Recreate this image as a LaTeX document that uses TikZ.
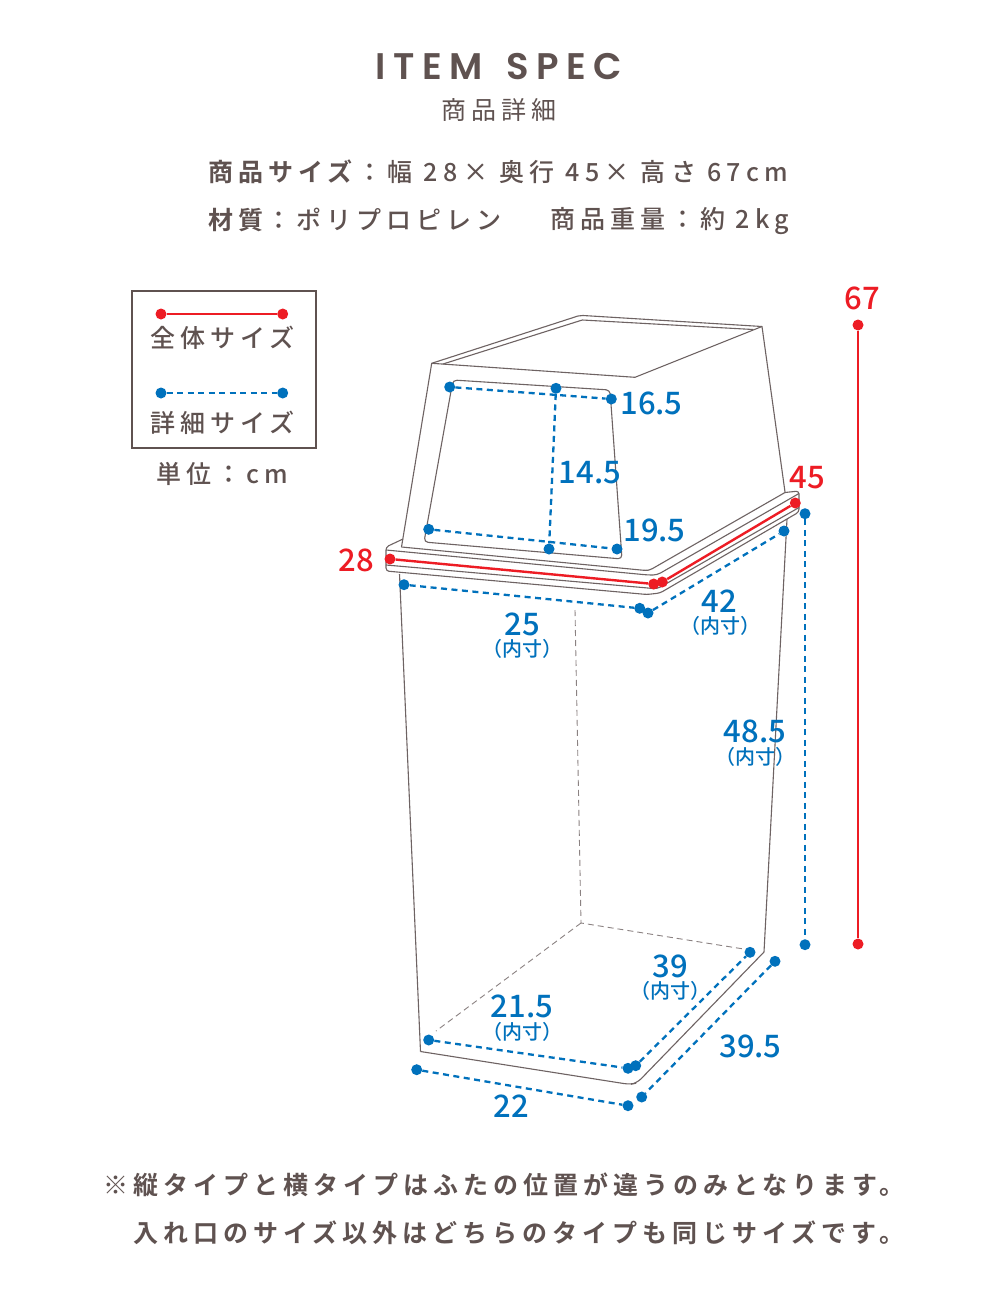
\documentclass[tikz,border=0pt]{standalone}
\usepackage{fontspec}
\setmainfont{Noto Sans CJK JP}
\newfontfamily\jpf[LetterSpace=20.5]{Noto Sans CJK JP}
\newfontfamily\jpm[LetterSpace=20]{Noto Sans CJK JP Medium}
\newfontfamily\jpmw[LetterSpace=21.5]{Noto Sans CJK JP Medium}
\newfontfamily\jpb[LetterSpace=20]{Noto Sans CJK JP Bold}
\newfontfamily\numf{Noto Sans CJK JP Medium}
\newfontfamily\headf[LetterSpace=20,WordSpace=1.5]{Poppins SemiBold}
\definecolor{txt}{HTML}{5F5250}
\definecolor{ln}{HTML}{6E6363}
\definecolor{blu}{HTML}{0071BC}
\definecolor{rd}{HTML}{ED1C24}
\tikzset{
  x=1pt,y=-1pt,
  txtn/.style={inner sep=0pt,text=txt,font=\jpm\fontsize{25}{30}\selectfont,anchor=west},
  num/.style={inner sep=0pt,text=blu,font=\numf\fontsize{31}{36}\selectfont},
  rnum/.style={num,text=rd},
  sub/.style={inner sep=0pt,text=blu,font=\numf\fontsize{20}{24}\selectfont},
  bdot/.style={circle,fill=blu,inner sep=0pt,minimum size=11pt},
  rdot/.style={circle,fill=rd,inner sep=0pt,minimum size=11pt},
  bline/.style={blu,line width=2.3pt,dash pattern=on 6pt off 4.5pt},
  rline/.style={rd,line width=2.4pt},
  body/.style={ln,line width=1.1pt,line join=round},
  hid/.style={ln!80,line width=0.9pt,dash pattern=on 6pt off 4pt},
}
\begin{document}
\begin{tikzpicture}
\useasboundingbox (0,0) rectangle (1000,1300);
\fill[white] (0,0) rectangle (1000,1300);
% heading
\node[inner sep=0pt,text=txt,font=\headf\fontsize{37}{44}\selectfont] (title) at (499,66.5) {ITEM SPEC};
\node[inner sep=0pt,text=txt,font=\jpf\fontsize{25}{30}\selectfont] (sub1) at (499,110) {商品詳細};
\node[txtn] (l1) at (208,172) {{\jpb 商品サイズ}\hspace{5pt}{\jpmw：幅 28× 奥行 45× 高さ 67cm}};
\node[txtn] (l2) at (208,219.5) {{\jpb 材質}\hspace{3pt}：ポリプロピレン};
\node[txtn] (l3) at (550,221) {商品重量：約 2kg};
% legend
\node[draw=txt,line width=2pt,inner sep=0pt,minimum width=183.5pt,minimum height=157pt] (legend) at (224,369.5) {};
\node[rdot] (lr1) at (161,314) {};
\node[rdot] (lr2) at (282.7,314) {};
\draw[rline] (lr1)--(lr2);
\node[bdot] (lb1) at (161,393) {};
\node[bdot] (lb2) at (282.7,393) {};
\draw[bline] (lb1)--(lb2);
\node[inner sep=0pt,text=txt,font=\jpm\fontsize{25}{30}\selectfont] (lt1) at (222.5,338) {全体サイズ};
\node[inner sep=0pt,text=txt,font=\jpm\fontsize{25}{30}\selectfont] (lt2) at (222.5,423) {詳細サイズ};
\node[inner sep=0pt,text=txt,font=\jpm\fontsize{25}{30}\selectfont] (lt3) at (222.5,474) {単位：cm};
% lid
\draw[body] (401.5,547) -- (431.7,363.3) -- (578,316) -- (583,315.5) -- (762,326.5) -- (785,492);
\draw[body] (431.7,363.3) -- (635,377.3) -- (762,326.5);
\draw[body] (443,364) -- (582.3,320) -- (753,329.5);
\draw[body,rounded corners=3pt] (401.5,547) -- (646,570.5) -- (650,570) -- (785,492.5);
% window
\draw[body,rounded corners=4pt] (453,380) -- (610,390) -- (622,559) -- (424,542) -- cycle;
% rim
\draw[body,rounded corners=3pt] (403,539) -- (386,547) -- (386,571) -- (647,594.5) -- (660,593) -- (799,512) -- (799,491) -- (785,492.5);
\draw[body,rounded corners=4pt] (386,550) -- (648,575) -- (657,575) -- (799,493.5);
\draw[body,rounded corners=4pt] (386,565) -- (648,588) -- (657,589) -- (799,507.5);
% body
\draw[body] (399.5,574) -- (420.5,1051.5);
\draw[body,rounded corners=6pt] (420.5,1051.5) -- (630,1084.5) -- (637,1083) -- (764,952);
\draw[body] (764,952) -- (787,519);
\coordinate (hb) at (581,923);
\coordinate (ht) at (575,610);
\coordinate (hr) at (750,950);
\coordinate (hl) at (436,1031);
\draw[hid] (ht)--(hb)--(hr);
\draw[hid] (hb)--(hl);
% red dims
\node[rdot] (r1) at (390,559) {};
\node[rdot] (r2) at (653.7,584) {};
\node[rdot] (r3) at (662.3,582) {};
\node[rdot] (r4) at (795.3,503) {};
\node[rdot] (r5) at (858,325) {};
\node[rdot] (r6) at (858,944) {};
\draw[rline] (r1)--(r2);
\draw[rline] (r3)--(r4);
\draw[rline] (r5)--(r6);
% blue dims
\node[bdot] (a1) at (449.7,387) {};
\node[bdot] (a2) at (611.3,399) {};
\node[bdot] (a3) at (556,388.3) {};
\node[bdot] (a4) at (549,549) {};
\node[bdot] (a5) at (428.7,529.3) {};
\node[bdot] (a6) at (617,549) {};
\node[bdot] (b1) at (404,584.7) {};
\node[bdot] (b2) at (639.7,608.3) {};
\node[bdot] (b3) at (648,613) {};
\node[bdot] (b4) at (784,531) {};
\node[bdot] (b5) at (805,513.7) {};
\node[bdot] (b6) at (805,944.7) {};
\node[bdot] (c1) at (428.7,1040) {};
\node[bdot] (c2) at (628,1068.3) {};
\node[bdot] (c3) at (635.7,1065.7) {};
\node[bdot] (c4) at (750,952.3) {};
\node[bdot] (c5) at (775,961.3) {};
\node[bdot] (c6) at (641.7,1097) {};
\node[bdot] (c7) at (416.7,1069.7) {};
\node[bdot] (c8) at (628,1105.7) {};
\draw[bline] (a1)--(a2);
\draw[bline] (a3)--(a4);
\draw[bline] (a5)--(a6);
\draw[bline] (b1)--(b2);
\draw[bline] (b3)--(b4);
\draw[bline] (b5)--(b6);
\draw[bline] (c1)--(c2);
\draw[bline] (c3)--(c4);
\draw[bline] (c5)--(c6);
\draw[bline] (c7)--(c8);
% labels
\node[rnum] (n67) at (862,298) {67};
\node[rnum] (n45) at (807.5,477.5) {45};
\node[rnum] (n28) at (356,560.5) {28};
\node[num] (n165) at (651.5,403.5) {16.5};
\node[num] (n145) at (590,472.5) {14.5};
\node[num] (n195) at (654.5,530) {19.5};
\node[num] (n42) at (719.5,601.5) {42};
\node[sub] (s42) at (720,625.5) {（内寸）};
\node[num] (n25) at (522,624.5) {25};
\node[sub] (s25) at (522,648.5) {（内寸）};
\node[num] (n485) at (755,731.5) {48.5};
\node[sub] (s485) at (755,756.5) {（内寸）};
\node[num] (n39) at (670,966.5) {39};
\node[sub] (s39) at (670,990.5) {（内寸）};
\node[num] (n215) at (522,1006.5) {21.5};
\node[sub] (s215) at (522,1031.5) {（内寸）};
\node[num] (n395) at (750.5,1046.5) {39.5};
\node[num] (n22) at (511,1106.5) {22};
% footer
\node[txtn,font=\jpb\fontsize{25}{30}\selectfont] (f1) at (103,1184.5) {※縦タイプと横タイプはふたの位置が違うのみとなります。};
\node[txtn,font=\jpb\fontsize{25}{30}\selectfont] (f2) at (133,1232.5) {入れ口のサイズ以外はどちらのタイプも同じサイズです。};
\end{tikzpicture}
\end{document}
